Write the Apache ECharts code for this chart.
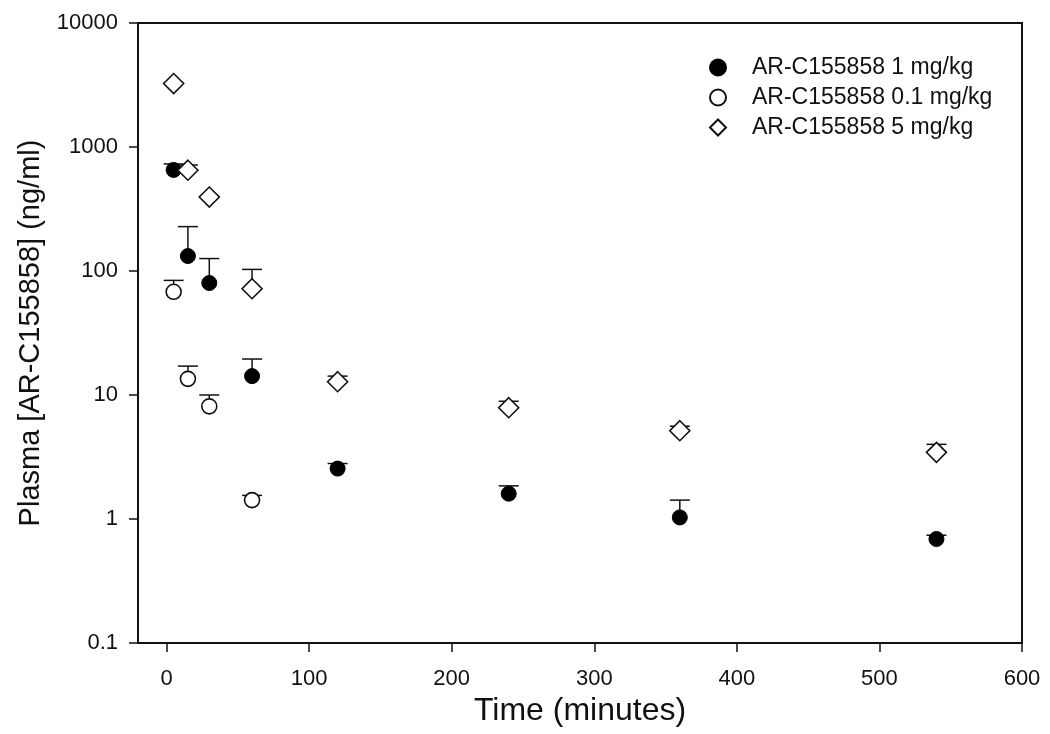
<!DOCTYPE html>
<html>
<head>
<meta charset="utf-8">
<script src="https://cdn.jsdelivr.net/npm/echarts@6/dist/echarts.min.js"></script>
<style>
html,body{margin:0;padding:0;background:#fff;}
#chart{width:1050px;height:734px;}
</style>
</head>
<body>
<div id="chart"></div>
<script>
// ---- data ----
const seriesNames = ['AR-C155858 1 mg/kg', 'AR-C155858 0.1 mg/kg', 'AR-C155858 5 mg/kg'];
const time1 = [5, 15, 30, 60, 120, 240, 360, 540];
const mean1 = [653, 132, 80, 14.2, 2.55, 1.6, 1.03, 0.69];
const upper1 = [730, 228, 126, 19.5, 2.8, 1.85, 1.42, 0.74];
const time01 = [5, 15, 30, 60];
const mean01 = [68, 13.5, 8.1, 1.42];
const upper01 = [84, 17.1, 10, 1.55];
const time5 = [5, 15, 30, 60, 120, 240, 360, 540];
const mean5 = [3250, 650, 395, 72, 12.8, 7.9, 5.15, 3.45];
const upper5 = [3300, 716, 400, 103, 14.2, 8.9, 5.6, 4.0];
const xTicks = [0, 100, 200, 300, 400, 500, 600];
const yTicks = [0.1, 1, 10, 100, 1000, 10000];

const FONT = '"Liberation Sans", Arial, sans-serif';
const TXT = '#111';

function pts(t, m) { return t.map((x, i) => [x, m[i]]); }
function errData(t, m, u) { return t.map((x, i) => [x, m[i], u[i]]); }

function errSeries(t, m, u) {
  return {
    type: 'custom',
    data: errData(t, m, u),
    z: 1,
    silent: true,
    renderItem: function (params, api) {
      const x = api.value(0);
      const p0 = api.coord([x, api.value(1)]);
      const p1 = api.coord([x, api.value(2)]);
      const hw = 10;
      return {
        type: 'group',
        children: [
          { type: 'line', shape: { x1: p0[0], y1: p0[1], x2: p1[0], y2: p1[1] }, style: { stroke: '#111', lineWidth: 1.5 } },
          { type: 'line', shape: { x1: p1[0] - hw, y1: p1[1], x2: p1[0] + hw, y2: p1[1] }, style: { stroke: '#111', lineWidth: 1.5 } }
        ]
      };
    }
  };
}

const chart = echarts.init(document.getElementById('chart'), null, { renderer: 'canvas' });
chart.setOption({
  animation: false,
  backgroundColor: '#fff',
  grid: { left: 138, top: 23, right: 28, bottom: 91, show: true, borderColor: '#111', borderWidth: 2, backgroundColor: '#fff' },
  legend: {
    orient: 'vertical',
    left: 704,
    top: 51,
    itemWidth: 16,
    itemHeight: 16,
    itemGap: 7,
    data: seriesNames,
    textStyle: { fontFamily: FONT, fontSize: 23, lineHeight: 23, color: TXT, padding: [0, 0, 0, 21] }
  },
  xAxis: {
    type: 'value',
    min: -20,
    max: 600,
    name: 'Time (minutes)',
    nameLocation: 'middle',
    nameGap: 52,
    nameTextStyle: { fontFamily: FONT, fontSize: 32, color: TXT },
    axisLine: { show: true, onZero: false, lineStyle: { color: '#111', width: 2 } },
    axisTick: { show: true, inside: false, length: 9, customValues: xTicks, lineStyle: { color: '#111', width: 1.5 } },
    axisLabel: { customValues: xTicks, margin: 25, fontFamily: FONT, fontSize: 22, color: TXT },
    splitLine: { show: false }
  },
  yAxis: {
    type: 'log',
    logBase: 10,
    min: 0.1,
    max: 10000,
    name: 'Plasma [AR-C155858] (ng/ml)',
    nameLocation: 'middle',
    nameGap: 88,
    nameTextStyle: { fontFamily: FONT, fontSize: 29, color: TXT },
    axisLine: { show: true, onZero: false, lineStyle: { color: '#111', width: 2 } },
    axisTick: { show: true, inside: false, length: 9, lineStyle: { color: '#111', width: 1.5 } },
    minorTick: { show: false },
    axisLabel: {
      margin: 20, fontFamily: FONT, fontSize: 22, color: TXT,
      formatter: function (v) {
        for (const t of yTicks) { if (Math.abs(v - t) / t < 1e-6) return String(t); }
        return '';
      }
    },
    splitLine: { show: false }
  },
  series: [
    errSeries(time1, mean1, upper1),
    errSeries(time01, mean01, upper01),
    errSeries(time5, mean5, upper5),
    {
      name: seriesNames[0], type: 'scatter', z: 3,
      symbol: 'circle', symbolSize: 15,
      itemStyle: { color: '#000', borderColor: '#000', borderWidth: 1, opacity: 1 },
      data: pts(time1, mean1)
    },
    {
      name: seriesNames[1], type: 'scatter', z: 3,
      symbol: 'circle', symbolSize: 15,
      itemStyle: { color: '#fff', borderColor: '#111', borderWidth: 1.6, opacity: 1 },
      data: pts(time01, mean01)
    },
    {
      name: seriesNames[2], type: 'scatter', z: 3,
      symbol: 'diamond', symbolSize: [20, 20],
      itemStyle: { color: '#fff', borderColor: '#111', borderWidth: 1.6, opacity: 1 },
      data: pts(time5, mean5)
    }
  ]
});
</script>
</body>
</html>
